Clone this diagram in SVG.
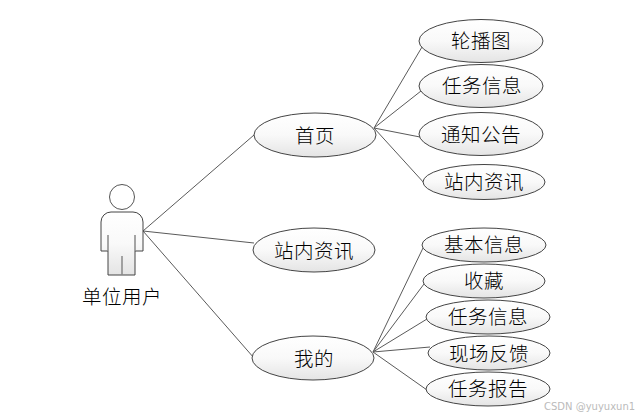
<svg xmlns="http://www.w3.org/2000/svg" width="638" height="417" viewBox="0 0 638 417">
<style>
.n{stroke:#444;stroke-width:1;fill:url(#g)}
.c{stroke:#5a5a5a;stroke-width:1;fill:none}
.t{font-family:"Noto Sans CJK SC","Noto Sans CJK JP",sans-serif;font-weight:300;font-size:19.5px;letter-spacing:0.5px;fill:#000;text-anchor:middle}
</style>
<defs><linearGradient id="g" x1="0" y1="0" x2="0" y2="1"><stop offset="0" stop-color="#fff"/><stop offset="0.5" stop-color="#f9f9f9"/><stop offset="1" stop-color="#e4e4e4"/></linearGradient></defs>
<rect width="638" height="417" fill="#fff"/>
<g id="connectors">
<path class="c" d="M143 231L254 135M143 231L254 243M143 231L254 358"/>
<path class="c" d="M374 128L422 47M374 128L421 91M374 128L420 137M374 128L425 184"/>
<path class="c" d="M373 352L423 248M373 352L424 284M373 352L427 319M373 352L430 347M373 352L427 390"/>
</g>
<g id="actor">
<circle cx="122" cy="197" r="12.5" fill="#fff" stroke="#555"/>
<path class="n" d="M101 251V222a10 10 0 0 1 10-10H133a10 10 0 0 1 10 10V251H135V275H108V251Z"/>
<path d="M108 235V251M135 235V251M122 256V275" stroke="#888" stroke-width="1.5" fill="none"/>
<text class="t" x="122" y="304">单位用户</text>
</g>
<g id="n-home"><ellipse class="n" cx="315" cy="135" rx="61" ry="22"/><text class="t" x="315" y="143">首页</text></g>
<g id="n-news"><ellipse class="n" cx="314" cy="250" rx="61" ry="22"/><text class="t" x="314" y="258">站内资讯</text></g>
<g id="n-mine"><ellipse class="n" cx="313" cy="358" rx="61" ry="22"/><text class="t" x="314" y="366">我的</text></g>
<g id="n-a1"><ellipse class="n" cx="481" cy="41" rx="62" ry="21.5"/><text class="t" x="481" y="48">轮播图</text></g>
<g id="n-a2"><ellipse class="n" cx="481" cy="86" rx="62" ry="21.5"/><text class="t" x="482" y="93">任务信息</text></g>
<g id="n-a3"><ellipse class="n" cx="481" cy="134" rx="62" ry="21.5"/><text class="t" x="481" y="142">通知公告</text></g>
<g id="n-a4"><ellipse class="n" cx="484" cy="182" rx="61" ry="17.5"/><text class="t" x="484" y="189">站内资讯</text></g>
<g id="n-b1"><ellipse class="n" cx="484" cy="245" rx="62" ry="17"/><text class="t" x="484" y="252">基本信息</text></g>
<g id="n-b2"><ellipse class="n" cx="484" cy="281" rx="61" ry="17"/><text class="t" x="484" y="288">收藏</text></g>
<g id="n-b3"><ellipse class="n" cx="488" cy="317" rx="62" ry="17"/><text class="t" x="488" y="324">任务信息</text></g>
<g id="n-b4"><ellipse class="n" cx="489" cy="353" rx="61" ry="17"/><text class="t" x="489" y="361">现场反馈</text></g>
<g id="n-b5"><ellipse class="n" cx="488" cy="389" rx="62" ry="17"/><text class="t" x="488" y="396">任务报告</text></g>
<text x="544" y="410" font-family="'DejaVu Sans',sans-serif" font-size="10px" fill="#bbb">CSDN @yuyuxun1</text>
</svg>
